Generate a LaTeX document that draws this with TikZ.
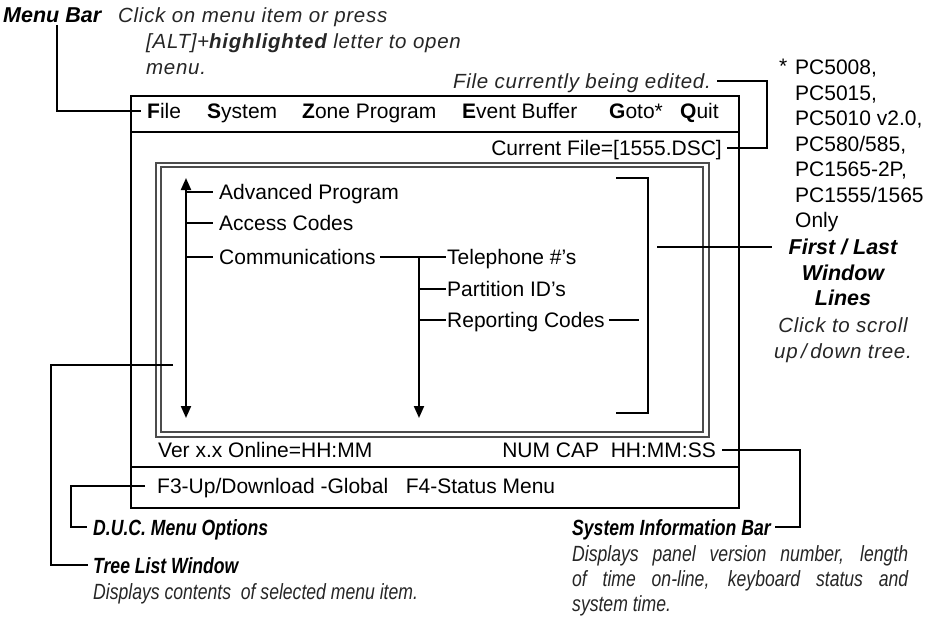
\documentclass[tikz,border=0pt]{standalone}
\usepackage{fontspec}
\setmainfont{Liberation Sans}
\newfontfamily\descfont[LetterSpace=3.5]{Liberation Sans}
\newfontfamily\narrowfont[FakeStretch=0.8]{Liberation Sans}
\usetikzlibrary{arrows.meta}
\tikzset{
  scr/.style={font=\fontsize{21}{25}\selectfont, inner sep=0pt, text height=15pt, text depth=0pt, anchor=west},
  desc/.style={font=\descfont\itshape\fontsize{20.5}{26}\selectfont, inner sep=0pt, text height=14.5pt, text depth=0pt, anchor=west, text=black!85},
  lbl/.style={font=\bfseries\itshape\fontsize{21.5}{26}\selectfont, inner sep=0pt, text height=15.5pt, text depth=0pt, anchor=west},
  nlbl/.style={font=\narrowfont\bfseries\itshape\fontsize{22}{26}\selectfont, inner sep=0pt, text height=16pt, text depth=0pt, anchor=west},
  ndesc/.style={font=\narrowfont\itshape\fontsize{22}{26}\selectfont, inner sep=0pt, text height=16pt, text depth=0pt, anchor=west, text=black!85},
  conn/.style={line width=2pt},
  frame/.style={line width=2.6pt},
  win/.style={line width=1.3pt, draw=black!70},
  arr/.style={line width=2pt, -{Triangle[width=10pt,length=12pt]}},
  darr/.style={line width=2pt, {Triangle[width=10pt,length=12pt]}-{Triangle[width=10pt,length=12pt]}}
}
\begin{document}
\begin{tikzpicture}[x=1pt,y=-1pt]
\useasboundingbox (0,0) rectangle (930,618);
\fill[white] (0,0) rectangle (930,618);

% ---------- main screen frame ----------
\draw[frame] (131,96) rectangle (739,508);
\draw[frame] (131,132) -- (739,132);
\draw[frame] (131,467) -- (739,467);
% tree window double frame
\draw[win] (156,163) rectangle (709,437);
\draw[win] (161,167) rectangle (703,432);

% ---------- menu bar ----------
\node[scr] (mFile) at (147,111) {\textbf{F}ile};
\node[scr] (mSys)  at (207,111) {\textbf{S}ystem};
\node[scr] (mZone) at (302,111) {\textbf{Z}one Program};
\node[scr] (mEvt)  at (462,111) {\textbf{E}vent Buffer};
\node[scr] (mGoto) at (609,111) {\textbf{G}oto*};
\node[scr] (mQuit) at (680,111) {\textbf{Q}uit};

\node[scr, anchor=east] (cur) at (722,148) {Current File=[1555.DSC]};

% ---------- tree list ----------
\coordinate (tTop) at (186,178);
\coordinate (tBot) at (186,418);
\draw[darr] (tTop) -- (tBot);
\node[scr] (adv) at (219,192) {Advanced Program};
\node[scr] (acc) at (219,223) {Access Codes};
\node[scr] (com) at (219,257) {Communications};
\draw[conn] (adv.west -| tTop) -- ([xshift=-6pt]adv.west);
\draw[conn] (acc.west -| tTop) -- ([xshift=-6pt]acc.west);
\draw[conn] (com.west -| tTop) -- ([xshift=-6pt]com.west);

\node[scr] (tel) at (447,257) {Telephone \#'s};
\node[scr] (par) at (447,289) {Partition ID's};
\node[scr] (rep) at (447,320) {Reporting Codes};
\coordinate (sTop) at (419,257);
\coordinate (sBot) at (419,418);
\draw[arr] (sTop) -- (sBot);
\draw[conn] ([xshift=4pt]com.east) -- ([xshift=-1pt]tel.west);
\draw[conn] (par.west -| sTop) -- ([xshift=-1pt]par.west);
\draw[conn] (rep.west -| sTop) -- ([xshift=-1pt]rep.west);
\coordinate (repEnd) at (639,320);
\draw[conn] ([xshift=4pt]rep.east) -- (repEnd);

% first/last bracket
\coordinate (brT) at (616,178);
\coordinate (brB) at (616,413);
\draw[conn] (brT) -- (648,178) -- (648,413) -- (brB);

% ---------- status lines ----------
\node[scr] (ver) at (158,450) {Ver x.x Online=HH:MM};
\node[scr, anchor=east] (num) at (716,450) {NUM CAP\ \ HH:MM:SS};
\node[scr] (f3) at (157,486) {F3-Up/Download -Global\ \ \ F4-Status Menu};

% ---------- top annotations ----------
\node[lbl] (mb) at (3,15) {Menu Bar};
\node[desc] (mb1) at (118,15) {Click on menu item or press};
\node[desc] (mb2) at (146,41) {[ALT]+\textbf{highlighted} letter to open};
\node[desc] (mb3) at (146,67) {menu.};
\coordinate (mbc) at (57,25);
\draw[conn] (mbc) |- ([xshift=-6pt]mFile.west);

\node[desc, anchor=east] (fce) at (711,81) {File currently being edited.};
\coordinate (fcc) at (767,81);
\draw[conn] ([xshift=5pt]cur.east) -| (fcc) -- ([xshift=6pt]fce.east);

% ---------- right column ----------
\node[scr] (ast) at (779,66) {*};
\node[scr] (pc1) at (795,67) {PC5008,};
\node[scr] (pc2) at (795,92.5) {PC5015,};
\node[scr] (pc3) at (795,118) {PC5010 v2.0,};
\node[scr] (pc4) at (795,143.5) {PC580/585,};
\node[scr] (pc5) at (795,169) {PC1565-2P,};
\node[scr] (pc6) at (795,194.5) {PC1555/1565};
\node[scr] (pc7) at (795,220) {Only};

\node[lbl, anchor=center] (fl1) at (843,247) {First / Last};
\node[lbl, anchor=center] (fl2) at (843,273) {Window};
\node[lbl, anchor=center] (fl3) at (843,298) {Lines};
\node[desc, anchor=center] (fl4) at (843,325) {Click to scroll};
\node[desc, anchor=center] (fl5) at (843,351) {up\,/\,down tree.};
\coordinate (flc) at (657,247);
\draw[conn] (flc) -- ([xshift=-16pt]fl1.west);

% ---------- bottom annotations ----------
\node[nlbl] (duc) at (93,527) {D.U.C. Menu Options};
\coordinate (dc) at (71,486);
\draw[conn] ([xshift=-12pt]f3.west) -- (dc) |- ([xshift=-6pt]duc.west);

\node[nlbl] (tlw) at (93,565) {Tree List Window};
\node[ndesc] (tld) at (93,591) {Displays contents\ \ of selected menu item.};
\coordinate (tlA) at (173,365);
\coordinate (tlB) at (51,365);
\draw[conn] (tlA) -- (tlB) |- ([xshift=-5pt]tlw.west);

\node[nlbl] (sib) at (572,527) {System Information Bar};
\node[ndesc] (sd1) at (572,553) {\makebox[336pt][s]{Displays panel version number, length}};
\node[ndesc] (sd2) at (572,578) {\makebox[336pt][s]{of time on-line, keyboard status and}};
\node[ndesc] (sd3) at (572,603) {system time.};
\coordinate (sc) at (800,527);
\draw[conn] ([xshift=6pt]num.east) -| (sc) -- ([xshift=4pt]sib.east);
\end{tikzpicture}
\end{document}
